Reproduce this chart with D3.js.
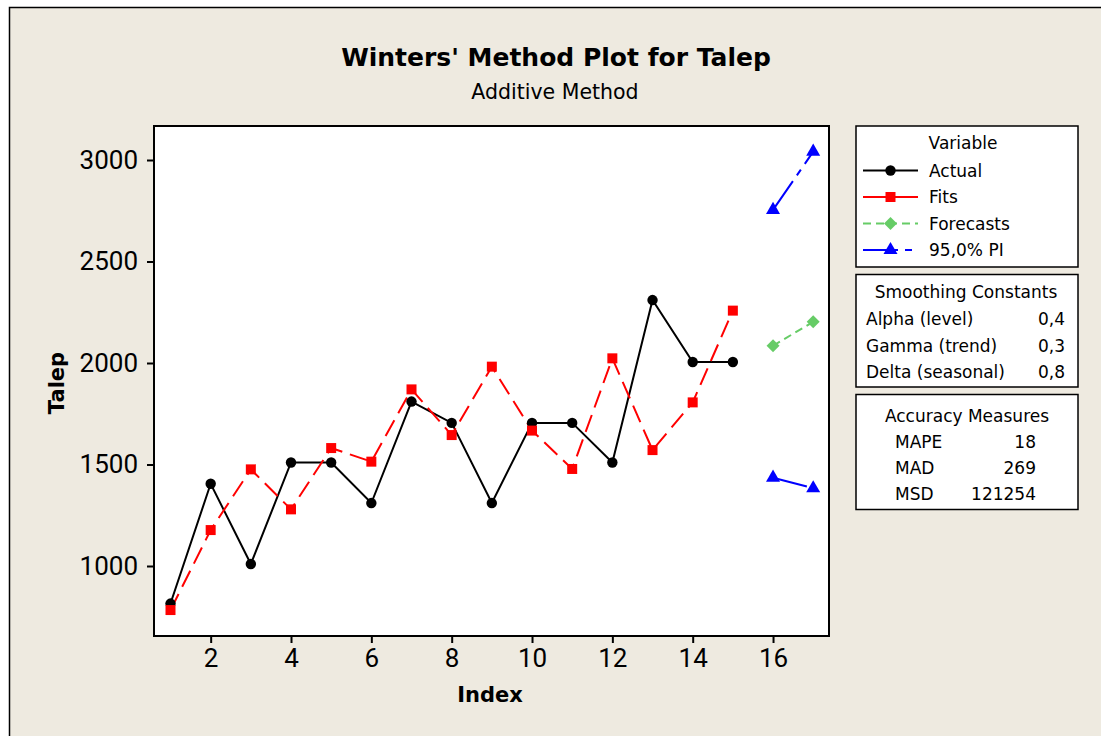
<!DOCTYPE html>
<head>
  <meta charset="utf-8">
  <script src="https://d3js.org/d3.v7.min.js"></script>
  <style>
    body { margin: 0; background: #fff; }
    svg { display: block; }
    .tick text { font-family: "Liberation Sans Narrow", "Roboto", sans-serif; font-size: 26px; fill: #000; }
    .tick line { stroke: #000; stroke-width: 2; }
    .lg text { font-family: "DejaVu Sans", sans-serif; font-size: 17px; fill: #000; }
  </style>
</head>

<body>
  <div class="chart"></div>

  <script>
    var index = [1, 2, 3, 4, 5, 6, 7, 8, 9, 10, 11, 12, 13, 14, 15]
    var actual = [815, 1405, 1010, 1510, 1510, 1310, 1810, 1705, 1310, 1705, 1705, 1510, 2310, 2005, 2005]
    var fits = [783, 1177, 1476, 1279, 1581, 1514, 1870, 1645, 1982, 1667, 1478, 2023, 1571, 1806, 2258]
    var forecastIndex = [16, 17]
    var forecasts = [2085, 2203]
    var piUpper = [2754, 3041]
    var piLower = [1435, 1383]

    var xTicks = [2, 4, 6, 8, 10, 12, 14, 16]
    var yTicks = [1000, 1500, 2000, 2500, 3000]

    var legendNames = ["Actual", "Fits", "Forecasts", "95,0% PI"]
    var smoothingNames = ["Alpha (level)", "Gamma (trend)", "Delta (seasonal)"]
    var smoothingValues = ["0,4", "0,3", "0,8"]
    var accuracyNames = ["MAPE", "MAD", "MSD"]
    var accuracyValues = ["18", "269", "121254"]

    var width = 1101, height = 736
    var plot = { left: 154, top: 126, right: 829, bottom: 636 }

    var svg = d3.select(".chart")
      .append("svg")
      .attr("width", width)
      .attr("height", height)

    svg.append("rect")
      .attr("x", 9.5).attr("y", 7.5)
      .attr("width", 1110).attr("height", 750)
      .attr("fill", "#eeeae0")
      .attr("stroke", "#000")
      .attr("stroke-width", 1.5)

    var x = d3.scaleLinear().domain([1, 17]).range([170.5, 813.2])
    var y = d3.scaleLinear().domain([1000, 3000]).range([566, 160])

    svg.append("rect")
      .attr("x", plot.left).attr("y", plot.top)
      .attr("width", plot.right - plot.left)
      .attr("height", plot.bottom - plot.top)
      .attr("fill", "#fff")

    svg.append("g")
      .attr("transform", "translate(" + plot.left + ",0)")
      .call(d3.axisLeft(y).tickValues(yTicks).tickFormat(d3.format("d")).tickSize(7).tickPadding(9))
      .call(function(g) { g.select(".domain").remove() })

    svg.append("g")
      .attr("transform", "translate(0," + plot.bottom + ")")
      .call(d3.axisBottom(x).tickValues(xTicks).tickFormat(d3.format("d")).tickSize(7).tickPadding(6))
      .call(function(g) { g.select(".domain").remove() })

    // titles
    svg.append("text")
      .attr("x", 556).attr("y", 66)
      .attr("text-anchor", "middle")
      .style("font-family", "DejaVu Sans").style("font-weight", "bold").style("font-size", "25px")
      .text("Winters' Method Plot for Talep")

    svg.append("text")
      .attr("x", 555).attr("y", 99)
      .attr("text-anchor", "middle")
      .style("font-family", "DejaVu Sans").style("font-size", "20.5px")
      .text("Additive Method")

    svg.append("text")
      .attr("x", 490).attr("y", 702)
      .attr("text-anchor", "middle")
      .style("font-family", "DejaVu Sans").style("font-weight", "bold").style("font-size", "21px")
      .text("Index")

    svg.append("text")
      .attr("transform", "translate(64,383) rotate(-90)")
      .attr("text-anchor", "middle")
      .style("font-family", "DejaVu Sans").style("font-weight", "bold").style("font-size", "21px")
      .text("Talep")

    var line = d3.line()
      .x(function(d) { return x(d[0]) })
      .y(function(d) { return y(d[1]) })

    function pairs(xs, ys) {
      return xs.map(function(v, i) { return [v, ys[i]] })
    }

    var series = [
      { pts: pairs(index, actual), color: "#000", dash: null, shape: "circle" },
      { pts: pairs(index, fits), color: "#ff0000", dash: "18,8", shape: "square" },
      { pts: pairs(forecastIndex, forecasts), color: "#66cc66", dash: "8,5", shape: "diamond" },
      { pts: pairs(forecastIndex, piUpper), color: "#0000ff", dash: "35,7,7,7", shape: "triangle" },
      { pts: pairs(forecastIndex, piLower), color: "#0000ff", dash: "35,7,7,7", shape: "triangle" }
    ]

    var symbols = {
      circle: d3.symbol().type(d3.symbolCircle).size(85),
      square: d3.symbol().type(d3.symbolSquare).size(100),
      diamond: d3.symbol().type(d3.symbolSquare).size(84),
      triangle: d3.symbol().type(d3.symbolTriangle).size(85)
    }

    function marker(sel, shape, color) {
      sel.append("path")
        .attr("d", symbols[shape]())
        .attr("fill", color)
        .attr("transform", function() {
          return shape === "diamond" ? "rotate(45)" : null
        })
    }

    series.forEach(function(s) {
      svg.append("path")
        .datum(s.pts)
        .attr("d", line)
        .attr("fill", "none")
        .attr("stroke", s.color)
        .attr("stroke-width", 2)
        .attr("stroke-dasharray", s.dash)
    })

    series.forEach(function(s) {
      svg.selectAll(null)
        .data(s.pts)
        .enter().append("g")
        .attr("transform", function(d) { return "translate(" + x(d[0]) + "," + y(d[1]) + ")" })
        .each(function() { marker(d3.select(this), s.shape, s.color) })
    })

    svg.append("rect")
      .attr("x", plot.left).attr("y", plot.top)
      .attr("width", plot.right - plot.left)
      .attr("height", plot.bottom - plot.top)
      .attr("fill", "none")
      .attr("stroke", "#000")
      .attr("stroke-width", 2)

    // legend boxes
    var lg = svg.append("g").attr("class", "lg")

    function box(y0, y1) {
      lg.append("rect")
        .attr("x", 856).attr("y", y0)
        .attr("width", 222).attr("height", y1 - y0)
        .attr("fill", "#fff")
        .attr("stroke", "#000")
        .attr("stroke-width", 1.5)
    }

    box(126, 267)
    box(274.5, 387)
    box(394.5, 509.5)

    lg.append("text").attr("x", 963).attr("y", 149).attr("text-anchor", "middle").text("Variable")

    var legendDash = [null, null, "8,5", "35,7,7,7"]
    legendNames.forEach(function(name, i) {
      var s = series[i]
      var cy = 170.5 + i * 26.5
      lg.append("line")
        .attr("x1", 863).attr("x2", 918)
        .attr("y1", cy).attr("y2", cy)
        .attr("stroke", s.color)
        .attr("stroke-width", 2)
        .attr("stroke-dasharray", legendDash[i])
      var g = lg.append("g").attr("transform", "translate(890.5," + cy + ")")
      marker(g, s.shape, s.color)
      lg.append("text").attr("x", 929).attr("y", cy + 6).text(name)
    })

    lg.append("text").attr("x", 966).attr("y", 298).attr("text-anchor", "middle").text("Smoothing Constants")
    smoothingNames.forEach(function(name, i) {
      var by = 325 + i * 26.6
      lg.append("text").attr("x", 866).attr("y", by).text(name)
      lg.append("text").attr("x", 1065).attr("y", by).attr("text-anchor", "end").text(smoothingValues[i])
    })

    lg.append("text").attr("x", 967).attr("y", 421.5).attr("text-anchor", "middle").text("Accuracy Measures")
    accuracyNames.forEach(function(name, i) {
      var by = 447.5 + i * 26.4
      lg.append("text").attr("x", 895).attr("y", by).text(name)
      lg.append("text").attr("x", 1036).attr("y", by).attr("text-anchor", "end").text(accuracyValues[i])
    })
  </script>
</body>
